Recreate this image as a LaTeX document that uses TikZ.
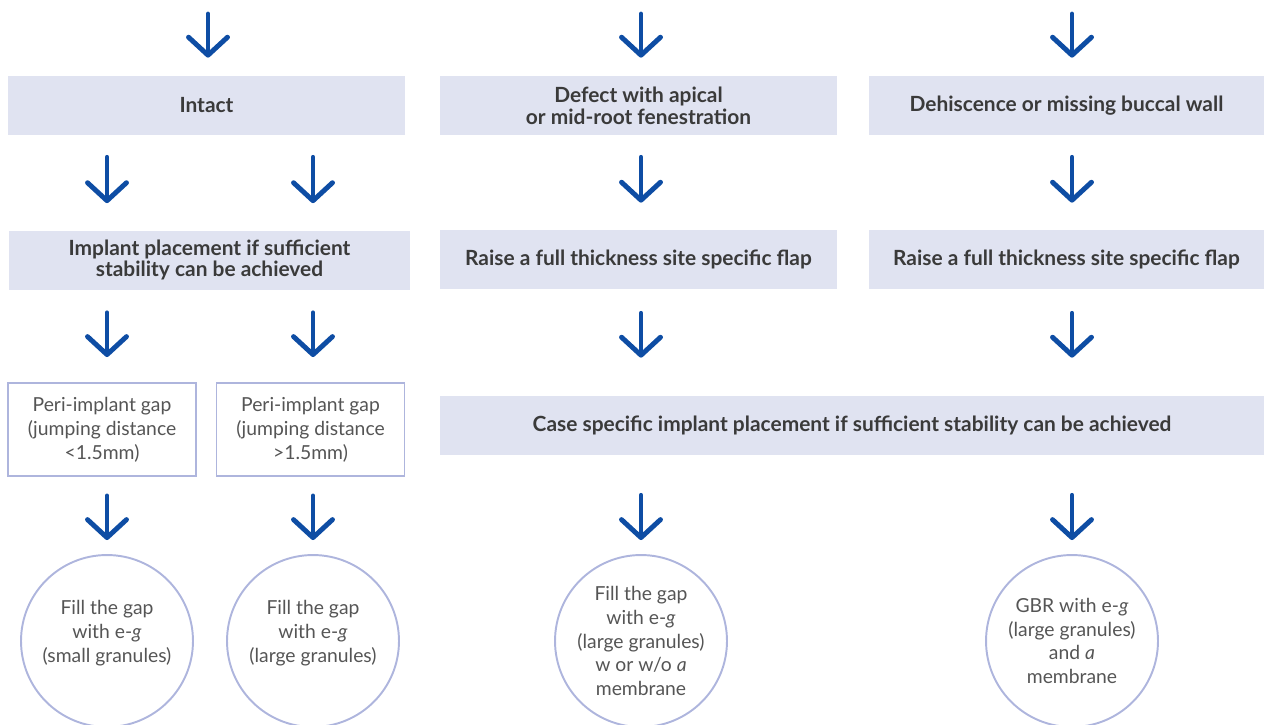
\documentclass[tikz,border=0pt]{standalone}
\usepackage{fontspec}
\setmainfont{Lato}
\usetikzlibrary{arrows.meta}
\definecolor{panel}{HTML}{E0E3F1}
\definecolor{rim}{HTML}{AEB5DD}
\definecolor{flowblue}{HTML}{0E4DA4}
\definecolor{ink}{HTML}{3A3A3A}
\definecolor{softink}{HTML}{555555}
\tikzset{
	box/.style={fill=panel,text=ink,font=\fontsize{11.9}{12.4}\selectfont\bfseries,align=center,inner sep=0pt,minimum height=1.18cm},
	gapbox/.style={draw=rim,line width=1.1pt,fill=white,text=softink,font=\fontsize{11}{13.6}\selectfont,align=center,inner sep=0pt,minimum width=3.76cm,minimum height=1.86cm},
	fillcirc/.style={circle,draw=rim,line width=1.1pt,text=softink,font=\fontsize{11}{13.6}\selectfont,align=center,inner sep=0pt,minimum size=3.44cm},
	flow/.style={draw=flowblue,line width=2.8pt,line cap=round,-{Straight Barb[round,width=0.78cm,length=0.36cm]}}
}
\begin{document}
\begin{tikzpicture}[x=0.02cm,y=-0.02cm]
	\useasboundingbox (0,0) rectangle (1264,724);
	% top row
	\node[box,minimum width=7.94cm] (intact) at (206.5,105.5) {Intact};
	\node[box,minimum width=7.94cm] (defect) at (638.5,105.5) {Defect with apical\\or mid-root fenestration};
	\node[box,minimum width=7.9cm] (dehisc) at (1066.5,105.5) {Dehiscence or missing buccal wall};
	\coordinate (inA) at (208,14);
	\coordinate (inB) at (641,14);
	\coordinate (inC) at (1072,14);
	% second row
	\node[box,minimum width=8.02cm] (implant) at (209.5,260) {Implant placement if sufficient\\stability can be achieved};
	\node[box,minimum width=7.94cm] (raiseB) at (638.5,259.5) {Raise a full thickness site specific flap};
	\node[box,minimum width=7.9cm] (raiseC) at (1066.5,259.5) {Raise a full thickness site specific flap};
	% third row
	\node[gapbox] (gapL) at (102,429.5) {Peri-implant gap\\(jumping distance\\<1.5mm)};
	\node[gapbox] (gapR) at (310.5,429.5) {Peri-implant gap\\(jumping distance\\>1.5mm)};
	\node[box,minimum width=16.48cm] (case) at (852,425.5) {Case specific implant placement if sufficient stability can be achieved};
	% circles
	\node[fillcirc] (fillL) at (107,641) {Fill the gap\\with e-\textit{g}\\(small granules)\\[-2.5pt]};
	\node[fillcirc] (fillR) at (313,641) {Fill the gap\\with e-\textit{g}\\(large granules)\\[-2.5pt]};
	\node[fillcirc] (fillB) at (641,641) {Fill the gap\\with e-\textit{g}\\(large granules)\\w or w/o \textit{a}\\membrane};
	\node[fillcirc] (fillC) at (1072,641) {GBR with e-\textit{g}\\(large granules)\\and \textit{a}\\membrane};
	% arrows
	\draw[flow,shorten >=0.36cm] (inA) -- (inA |- intact.north);
	\draw[flow,shorten >=0.36cm] (inB) -- (inB |- defect.north);
	\draw[flow,shorten >=0.36cm] (inC) -- (inC |- dehisc.north);
	\draw[flow,shorten <=0.44cm,shorten >=0.54cm] (intact.south -| fillL) -- (implant.north -| fillL);
	\draw[flow,shorten <=0.44cm,shorten >=0.54cm] (intact.south -| fillR) -- (implant.north -| fillR);
	\draw[flow,shorten <=0.44cm,shorten >=0.54cm] (defect.south -| fillB) -- (raiseB.north -| fillB);
	\draw[flow,shorten <=0.44cm,shorten >=0.54cm] (dehisc.south -| fillC) -- (raiseC.north -| fillC);
	\draw[flow,shorten <=0.46cm,shorten >=0.5cm] (implant.south -| fillL) -- (gapL.north -| fillL);
	\draw[flow,shorten <=0.46cm,shorten >=0.5cm] (implant.south -| fillR) -- (gapR.north -| fillR);
	\draw[flow,shorten <=0.48cm,shorten >=0.76cm] (raiseB.south -| fillB) -- (case.north -| fillB);
	\draw[flow,shorten <=0.48cm,shorten >=0.76cm] (raiseC.south -| fillC) -- (case.north -| fillC);
	\draw[flow,shorten <=0.38cm,shorten >=0.28cm] (gapL.south -| fillL) -- (fillL.north);
	\draw[flow,shorten <=0.38cm,shorten >=0.28cm] (gapR.south -| fillR) -- (fillR.north);
	\draw[flow,shorten <=0.8cm,shorten >=0.28cm] (case.south -| fillB) -- (fillB.north);
	\draw[flow,shorten <=0.8cm,shorten >=0.28cm] (case.south -| fillC) -- (fillC.north);
\end{tikzpicture}
\end{document}
